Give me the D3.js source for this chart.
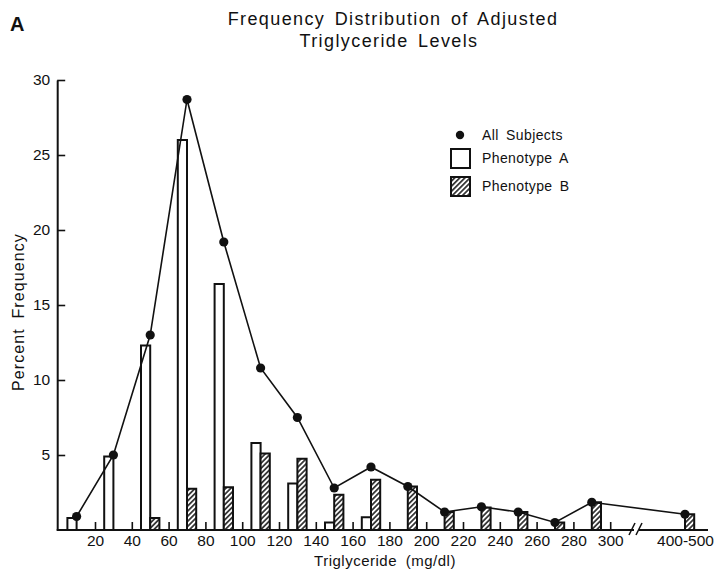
<!DOCTYPE html>
<html>
<head>
<meta charset="utf-8">
<script src="https://cdn.jsdelivr.net/npm/d3@7"></script>
<style>
  html, body { margin: 0; padding: 0; background: #fff; }
  svg { display: block; font-family: "Liberation Sans", Arial, Helvetica, sans-serif; }
</style>
</head>
<body>
<svg id="chart" width="723" height="574"></svg>
<script>
// ---------------- data ----------------
const binLabels = ["0-20","20-40","40-60","60-80","80-100","100-120","120-140","140-160",
                   "160-180","180-200","200-220","220-240","240-260","260-280","280-300","400-500"];
const binLow  = [0,20,40,60,80,100,120,140,160,180,200,220,240,260,280,400];
const binHigh = [20,40,60,80,100,120,140,160,180,200,220,240,260,280,300,500];
const allSubjects = [0.9, 5.0, 13.0, 28.7, 19.2, 10.8, 7.5, 2.8, 4.2, 2.9, 1.2, 1.55, 1.2, 0.5, 1.85, 1.05];
const phenotypeA  = [0.8, 4.9, 12.3, 26.0, 16.4, 5.8, 3.1, 0.5, 0.85, 0, 0, 0, 0, 0, 0, 0];
const phenotypeB  = [0, 0, 0.8, 2.75, 2.85, 5.1, 4.75, 2.35, 3.35, 2.9, 1.2, 1.5, 1.2, 0.5, 1.85, 1.05];
const xTickValues = [20,40,60,80,100,120,140,160,180,200,220,240,260,280,300,450];
const xTickLabels = ["20","40","60","80","100","120","140","160","180","200","220","240","260","280","300","400-500"];
const yTickValues = [5,10,15,20,25,30];
const titleLines = ["Frequency Distribution of Adjusted", "Triglyceride Levels"];
const legendLabels = ["All Subjects", "Phenotype A", "Phenotype B"];

// ---------------- layout ----------------
const svg = d3.select("#chart");
const x = d3.scaleLinear().domain([0, 300, 450]).range([58.2, 610.2, 685]);
const y = d3.scaleLinear().domain([0, 30]).range([530, 80]);
const barW = x(5) - x(0);

const defs = svg.append("defs");
const pat = defs.append("pattern")
  .attr("id", "hatch").attr("patternUnits", "userSpaceOnUse")
  .attr("width", 3.6).attr("height", 3.6)
  .attr("patternTransform", "rotate(45)");
pat.append("rect").attr("width", 3.6).attr("height", 3.6).attr("fill", "#fff");
pat.append("line").attr("x1", 0.9).attr("y1", 0).attr("x2", 0.9).attr("y2", 3.6)
  .attr("stroke", "#111").attr("stroke-width", 1.5);

// title
svg.append("text").attr("x", 10).attr("y", 31).attr("font-size", 20).attr("font-weight", "bold")
  .attr("fill", "#111").text("A");
svg.selectAll("text.title").data(titleLines).join("text")
  .attr("class", "title")
  .attr("x", (d, i) => i === 0 ? 393 : 389)
  .attr("y", (d, i) => 25 + i * 22)
  .attr("text-anchor", "middle").attr("font-size", 18)
  .attr("letter-spacing", 1.4).attr("word-spacing", 3)
  .attr("fill", "#111").text(d => d);

const data = binLabels.map((lab, i) => ({
  label: lab, mid: (binLow[i] + binHigh[i]) / 2 > 300 ? 450 : (binLow[i] + binHigh[i]) / 2,
  all: allSubjects[i], a: phenotypeA[i], b: phenotypeB[i]
}));

// bars
const g = svg.append("g");
g.selectAll("rect.a").data(data.filter(d => d.a > 0)).join("rect")
  .attr("class", "a")
  .attr("x", d => x(d.mid) - barW).attr("width", barW)
  .attr("y", d => y(d.a)).attr("height", d => y(0) - y(d.a))
  .attr("fill", "#fff").attr("stroke", "#111").attr("stroke-width", 2);
g.selectAll("rect.b").data(data.filter(d => d.b > 0)).join("rect")
  .attr("class", "b")
  .attr("x", d => x(d.mid)).attr("width", barW)
  .attr("y", d => y(d.b)).attr("height", d => y(0) - y(d.b))
  .attr("fill", "url(#hatch)").attr("stroke", "#111").attr("stroke-width", 2);

// line + dots
const line = d3.line().x(d => x(d.mid)).y(d => y(d.all));
g.append("path").datum(data).attr("d", line)
  .attr("fill", "none").attr("stroke", "#111").attr("stroke-width", 1.6);
g.selectAll("circle.dot").data(data).join("circle")
  .attr("class", "dot").attr("cx", d => x(d.mid)).attr("cy", d => y(d.all))
  .attr("r", 4.6).attr("fill", "#111");

// x axis
const xAxis = d3.axisBottom(x).tickValues(xTickValues)
  .tickFormat((d, i) => xTickLabels[i]).tickSizeInner(-8).tickSizeOuter(0).tickPadding(5);
const gx = svg.append("g").attr("transform", `translate(0,${y(0)})`).call(xAxis);
gx.select(".domain").remove();
gx.selectAll(".tick line").attr("stroke", "#111").attr("stroke-width", 1.6);
gx.selectAll(".tick").filter(d => d > 300).select("line").remove();
gx.selectAll(".tick text").attr("font-size", 15.5).attr("fill", "#111")
  .attr("font-family", "'Liberation Sans', Arial, sans-serif");
svg.append("line").attr("x1", x(0) - 1.5).attr("x2", 708).attr("y1", y(0)).attr("y2", y(0))
  .attr("stroke", "#111").attr("stroke-width", 2.2);
// axis break
svg.append("rect").attr("x", 634).attr("y", y(0) - 3).attr("width", 5).attr("height", 6).attr("fill", "#fff");
svg.selectAll("line.brk").data([0, 1]).join("line").attr("class", "brk")
  .attr("x1", d => 629 + d * 7).attr("y1", y(0) + 5)
  .attr("x2", d => 635 + d * 7).attr("y2", y(0) - 7)
  .attr("stroke", "#111").attr("stroke-width", 1.5);

// y axis
const yAxis = d3.axisLeft(y).tickValues(yTickValues)
  .tickSizeInner(-8).tickSizeOuter(0).tickPadding(7);
const gy = svg.append("g").attr("transform", `translate(${x(0) - 1},0)`).call(yAxis);
gy.select(".domain").attr("stroke", "#111").attr("stroke-width", 2);
gy.selectAll(".tick line").attr("stroke", "#111").attr("stroke-width", 1.6);
gy.selectAll(".tick text").attr("font-size", 15.5).attr("fill", "#111")
  .attr("font-family", "'Liberation Sans', Arial, sans-serif");

// axis titles
svg.append("text").attr("x", 385).attr("y", 566).attr("text-anchor", "middle")
  .attr("font-size", 15).attr("letter-spacing", 0.5).attr("word-spacing", 4)
  .attr("fill", "#111").text("Triglyceride (mg/dl)");
svg.append("text").attr("transform", "translate(24,312) rotate(-90)")
  .attr("text-anchor", "middle").attr("font-size", 16).attr("letter-spacing", 1.1)
  .attr("word-spacing", 4).attr("fill", "#111").text("Percent Frequency");

// legend
const lg = svg.append("g");
lg.append("circle").attr("cx", 460).attr("cy", 135).attr("r", 4.2).attr("fill", "#111");
lg.append("rect").attr("x", 451).attr("y", 149).attr("width", 19).attr("height", 19)
  .attr("fill", "#fff").attr("stroke", "#111").attr("stroke-width", 2);
lg.append("rect").attr("x", 451).attr("y", 177).attr("width", 19).attr("height", 19)
  .attr("fill", "url(#hatch)").attr("stroke", "#111").attr("stroke-width", 2);
lg.selectAll("text").data(legendLabels).join("text")
  .attr("x", 482).attr("y", (d, i) => [140, 163, 191][i])
  .attr("font-size", 14).attr("letter-spacing", 0.4).attr("word-spacing", 3)
  .attr("fill", "#111").text(d => d);
</script>
</body>
</html>
